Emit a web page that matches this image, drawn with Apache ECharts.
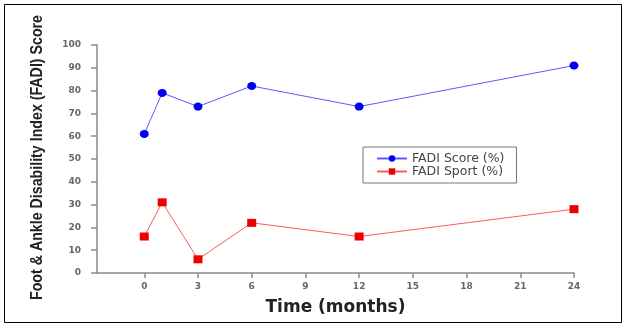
<!DOCTYPE html>
<html>
<head>
<meta charset="utf-8">
<style>
  html, body { margin: 0; padding: 0; background: #fff; }
  #chart { width: 627px; height: 328px; }
</style>
<script src="https://cdn.jsdelivr.net/npm/echarts@6/dist/echarts.min.js"></script>
</head>
<body>
<div id="chart"></div>
<script>
// Follow-up time points (months)
const months = [0, 1, 3, 6, 12, 24];
// FADI scores at each time point
const fadiScore = [61, 79, 73, 82, 73, 91];
const fadiSport = [16, 31, 6, 22, 16, 28];
// Axis tick values
const xTicks = [0, 3, 6, 9, 12, 15, 18, 21, 24];

const yTitle = 'Foot & Ankle Disability Index (FADI) Score';
const xTitle = 'Time (months)';

const pairs = (xs, ys) => xs.map((x, i) => [x, ys[i]]);

// Condense the vertical title so it runs the full height of the frame
const titleFont = 'bold 16px "Liberation Sans", Arial, sans-serif';
const ctx = document.createElement('canvas').getContext('2d');
ctx.font = titleFont;
const titleSpan = 285;
const titleScale = titleSpan / ctx.measureText(yTitle).width;

const chart = echarts.init(document.getElementById('chart'), null, { renderer: 'canvas' });

const tickFont = { color: '#666', fontFamily: '"DejaVu Sans", sans-serif', fontSize: 9, fontWeight: 'bold' };

chart.setOption({
  animation: false,
  backgroundColor: '#fff',
  grid: { left: 97, right: 53, top: 45, bottom: 55, containLabel: false },
  xAxis: {
    type: 'value',
    min: -2.64,
    max: 24,
    name: xTitle,
    nameLocation: 'middle',
    nameGap: 26,
    nameTextStyle: { color: '#222', fontFamily: '"DejaVu Sans", sans-serif', fontSize: 17, fontWeight: 'bold' },
    axisLine: { show: true, onZero: false, lineStyle: { color: '#8a8a8a', width: 1.5 } },
    axisTick: { show: true, customValues: xTicks, length: 5, lineStyle: { color: '#8a8a8a', width: 1.5 } },
    axisLabel: Object.assign({ customValues: xTicks, margin: 9 }, tickFont),
    splitLine: { show: false }
  },
  yAxis: {
    type: 'value',
    min: 0,
    max: 100,
    interval: 10,
    axisLine: { show: true, onZero: false, lineStyle: { color: '#8a8a8a', width: 1.5 } },
    axisTick: { show: true, length: 6, lineStyle: { color: '#8a8a8a', width: 1.5 } },
    axisLabel: Object.assign({ margin: 16 }, tickFont),
    splitLine: { show: false }
  },
  legend: {
    show: true,
    left: 363,
    top: 147,
    orient: 'vertical',
    padding: [5, 12, 5, 13],
    itemGap: 0,
    itemWidth: 30,
    itemHeight: 8,
    borderColor: '#777',
    borderWidth: 1,
    backgroundColor: '#fff',
    textStyle: { color: '#444', fontFamily: '"DejaVu Sans", sans-serif', fontSize: 12.5, lineHeight: 12 },
    data: ['FADI Score (%)', 'FADI Sport (%)']
  },
  series: [
    {
      name: 'FADI Score (%)',
      type: 'line',
      data: pairs(months, fadiScore),
      symbol: 'circle',
      symbolSize: [9, 8],
      itemStyle: { color: '#0000ee' },
      lineStyle: { color: '#5a5aff', width: 1 },
      z: 3
    },
    {
      name: 'FADI Sport (%)',
      type: 'line',
      data: pairs(months, fadiSport),
      symbol: 'rect',
      symbolSize: [9, 8],
      itemStyle: { color: '#ee0000' },
      lineStyle: { color: '#ff5a5a', width: 1 },
      z: 3
    }
  ],
  graphic: [
    {
      type: 'rect',
      shape: { x: 4.5, y: 4.5, width: 617, height: 318 },
      style: { fill: 'none', stroke: '#000', lineWidth: 1 },
      silent: true,
      z: -1
    },
    {
      type: 'text',
      x: 38,
      y: 157.5,
      rotation: Math.PI / 2,
      scaleX: titleScale,
      style: {
        text: yTitle,
        font: titleFont,
        fill: '#222',
        align: 'center',
        verticalAlign: 'middle'
      },
      silent: true
    }
  ]
});
</script>
</body>
</html>
